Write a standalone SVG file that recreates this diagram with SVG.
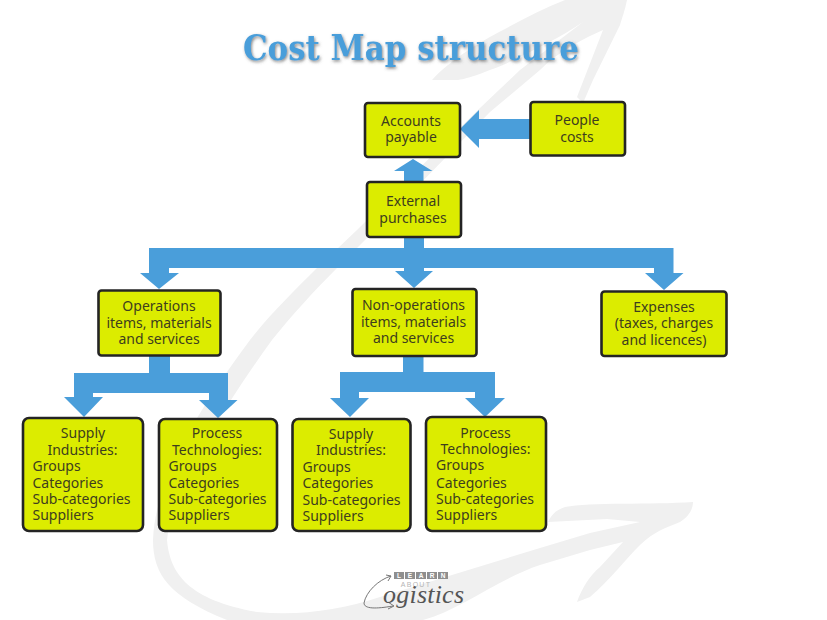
<svg xmlns="http://www.w3.org/2000/svg" width="827" height="620" viewBox="0 0 827 620">
<style>
.box{fill:#dcec00;stroke:#242424;stroke-width:2.6}
.t{font-family:"Noto Sans","Open Sans",sans-serif;font-size:14px;fill:#3e3e1e}
.m{text-anchor:middle}
.c{fill:#4a9eda}
.wm{fill:#f0f0f0}
.title{font-family:"DejaVu Serif","Liberation Serif",serif;font-weight:700;font-size:36px;fill:#4a9eda;text-anchor:middle}
.lg{fill:#8f8f8f}
.ll{font-family:"Liberation Sans",sans-serif;font-size:6.500px;font-weight:700;fill:#fff;text-anchor:middle}
</style>
<defs>
<filter id="sh" x="-10%" y="-30%" width="120%" height="170%"><feDropShadow dx="1" dy="1.500" stdDeviation="1.600" flood-color="#555" flood-opacity=".7"/></filter>
</defs>
<rect width="827" height="620" fill="#fff"/>
<g id="watermark">
<path class="wm" d="M167 540C170 575 190 600 257 612C300 616 340 610 380 597L540 548L590 533L640 522L607 519L548 522C552 514 556 510 565 507C590 502 650 505 693 502C693 510 688 517 680 522C665 528 655 531 640 545C625 560 610 580 590 597L577 602C582 588 590 575 600 567L623 542L590 550L540 565C500 578 460 610 423 620L227 620C170 597 153 575 153 540C155 480 198 410 250 340C272 312 295 290 317 268L357 230L480 108L520 70L583 22C560 38 530 52 503 65C480 74 470 78 458 80L432 80C450 60 480 42 503 30C525 18 545 8 565 0L627 0C625 10 622 18 620 25L593 80L583 103L577 97L603 30C585 38 560 50 540 70L490 112L375 230L337 268C315 290 292 315 272 340C225 405 172 490 167 540Z"/>
</g>
<text class="title" x="411" y="60" filter="url(#sh)" textLength="336" lengthAdjust="spacingAndGlyphs">Cost Map structure</text>
<g id="connectors">
<polygon class="c" points="460,129 479,110 479,119 531,119 531,139 479,139 479,148"/>
<polygon class="c" points="413,159 432.500,171 423.500,171 423.500,183 404,183 404,171 394,171"/>
<polygon class="c" points="404,236 424,236 424,248 673.500,248 673.500,273 683.500,273 664,290 645,273 654,273 654,268 424,268 424,271 433,271 414,288 395,271 404,271 404,268 169,268 169,273 179,273 159,289 140,273 149,273 149,248 404,248"/>
<polygon class="c" points="149,356 170,356 170,373 228,373 228,400 237.500,400 218,418 199,400 209,400 209,393 93,393 93,397 103,397 84,417 64,397 74,397 74,373 149,373"/>
<polygon class="c" points="403,356 423.500,356 423.500,372 495,372 495,398 505,398 485,417 465,398 475,398 475,392 359,392 359,398 369,398 350,417 330,398 340,398 340,372 403,372"/>
</g>
<g id="accounts-payable"><rect class="box" x="365" y="103" width="95" height="54" rx="3"/><text class="t m" x="411" y="126">Accounts</text><text class="t m" x="411" y="142">payable</text></g>
<g id="people-costs"><rect class="box" x="530.500" y="102" width="94.500" height="53.500" rx="3"/><text class="t m" x="577" y="125">People</text><text class="t m" x="577" y="141.500">costs</text></g>
<g id="external-purchases"><rect class="box" x="367" y="182" width="94" height="55" rx="3"/><text class="t m" x="413" y="206">External</text><text class="t m" x="413" y="222.500">purchases</text></g>
<g id="operations"><rect class="box" x="98.500" y="290.500" width="122" height="65" rx="3"/><text class="t m" x="159" y="311">Operations</text><text class="t m" x="159" y="327.500">items, materials</text><text class="t m" x="159" y="343.500">and services</text></g>
<g id="non-operations"><rect class="box" x="352.500" y="289" width="124" height="67" rx="3"/><text class="t m" x="413.500" y="310">Non-operations</text><text class="t m" x="413.500" y="326.500">items, materials</text><text class="t m" x="413.500" y="342.500">and services</text></g>
<g id="expenses"><rect class="box" x="601.500" y="291.500" width="125" height="64.500" rx="3"/><text class="t m" x="664" y="311.500">Expenses</text><text class="t m" x="664" y="328">(taxes, charges</text><text class="t m" x="664" y="344.500">and licences)</text></g>
<g id="supply-1"><rect class="box" x="23" y="418" width="120" height="113" rx="6"/><text class="t m" x="83" y="438">Supply</text><text class="t m" x="82.500" y="455">Industries:</text><text class="t" x="32.500" y="471">Groups</text><text class="t" x="32.500" y="488">Categories</text><text class="t" x="32.500" y="504">Sub-categories</text><text class="t" x="32.500" y="520">Suppliers</text></g>
<g id="process-1"><rect class="box" x="159" y="419" width="118" height="112" rx="6"/><text class="t m" x="217" y="438">Process</text><text class="t m" x="217" y="455">Technologies:</text><text class="t" x="168.500" y="471">Groups</text><text class="t" x="168.500" y="488">Categories</text><text class="t" x="168.500" y="504">Sub-categories</text><text class="t" x="168.500" y="520">Suppliers</text></g>
<g id="supply-2"><rect class="box" x="292.500" y="419" width="118" height="112" rx="6"/><text class="t m" x="351" y="439">Supply</text><text class="t m" x="351" y="455">Industries:</text><text class="t" x="302.500" y="472">Groups</text><text class="t" x="302.500" y="488">Categories</text><text class="t" x="302.500" y="505">Sub-categories</text><text class="t" x="302.500" y="521">Suppliers</text></g>
<g id="process-2"><rect class="box" x="426" y="417" width="120" height="114" rx="6"/><text class="t m" x="485.500" y="438">Process</text><text class="t m" x="485.500" y="454">Technologies:</text><text class="t" x="436" y="470">Groups</text><text class="t" x="436" y="488">Categories</text><text class="t" x="436" y="504">Sub-categories</text><text class="t" x="436" y="520">Suppliers</text></g>
<g id="logo">
<rect class="lg" x="394" y="572" width="10" height="7"/><rect class="lg" x="405" y="572" width="10" height="7"/><rect class="lg" x="416" y="572" width="10" height="7"/><rect class="lg" x="427" y="572" width="10" height="7"/><rect class="lg" x="438" y="572" width="10" height="7"/>
<text class="ll" x="399" y="578">L</text><text class="ll" x="410" y="578">E</text><text class="ll" x="421" y="578">A</text><text class="ll" x="432" y="578">R</text><text class="ll" x="443" y="578">N</text>
<text x="416" y="587" font-family="Liberation Sans,sans-serif" font-size="7" letter-spacing="1.300" text-anchor="middle" fill="#b5b5b5">ABOUT</text>
<path d="M391 576C378 580 366 592 364 603C364 609 376 609 393 606M386 575L391 576L388 581M388 602L394 606L388 609" fill="none" stroke="#777" stroke-width="1"/>
<text x="383" y="603" font-family="Liberation Serif,serif" font-style="italic" font-size="26" fill="#555" textLength="81" lengthAdjust="spacing">ogistics</text>
</g>
</svg>
